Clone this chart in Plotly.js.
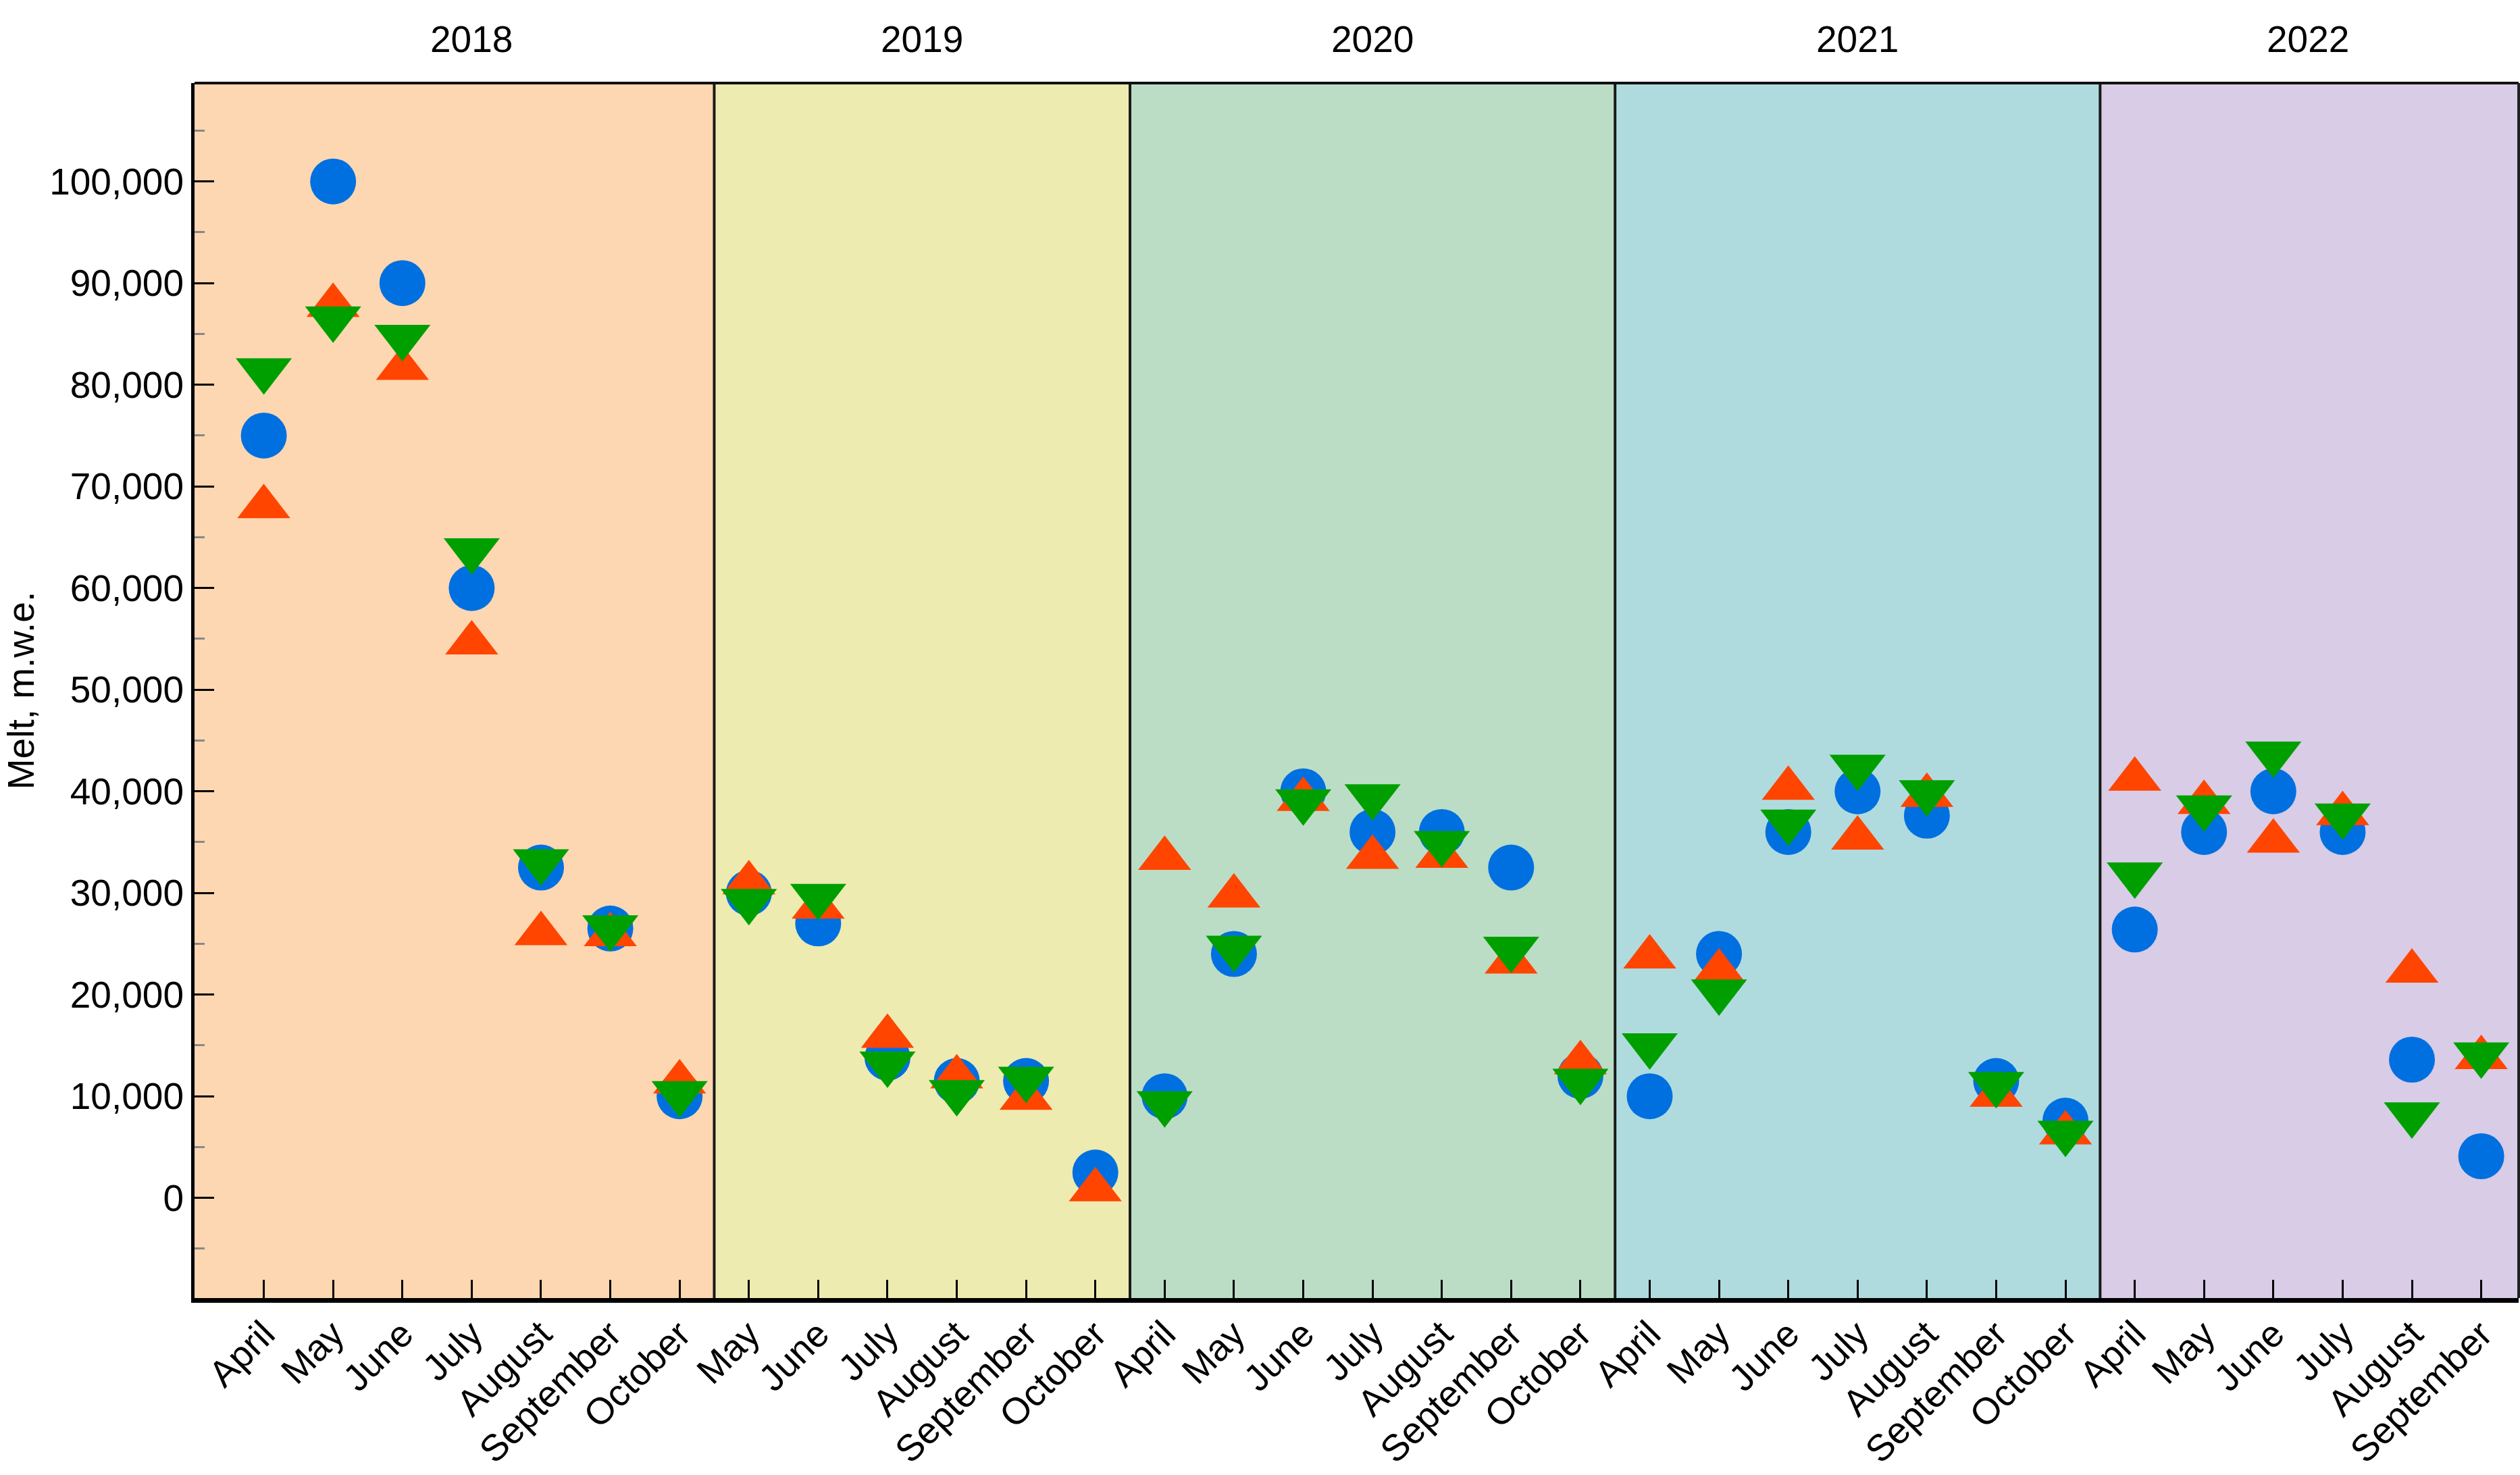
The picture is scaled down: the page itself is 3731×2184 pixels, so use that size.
<!DOCTYPE html>
<html>
<head>
<meta charset="utf-8">
<script src="https://cdn.plot.ly/plotly-3.0.1.min.js"></script>
<style>
  html, body { margin: 0; padding: 0; background: #ffffff; }
  #chart { width: 3731px; height: 2184px; }
</style>
</head>
<body>
<div id="chart"></div>
<script>
// ---- data ----
const years = ["2018", "2019", "2020", "2021", "2022"];
const months2018 = ["April", "May", "June", "July", "August", "September", "October"];
const months2019 = ["May", "June", "July", "August", "September", "October"];
const months2020 = ["April", "May", "June", "July", "August", "September", "October"];
const months2021 = ["April", "May", "June", "July", "August", "September", "October"];
const months2022 = ["April", "May", "June", "July", "August", "September"];

const blue2018 = [75000, 100000, 90000, 60000, 32500, 26500, 10000];
const red2018 = [68000, 87800, 81600, 54600, 26000, 25900, 11400];
const green2018 = [81400, 86500, 84700, 63700, 33100, 26600, 10300];

const blue2019 = [30000, 27000, 13800, 11500, 11500, 2500];
const red2019 = [31000, 28600, 15900, 11900, 9800, 800];
const green2019 = [29200, 29700, 13200, 10400, 11700, null];

const blue2020 = [10000, 24000, 40000, 36000, 36000, 32500, 12000];
const red2020 = [33400, 29700, 39200, 33500, 33600, 23200, 13300];
const green2020 = [9300, 24600, 39000, 39500, 34900, 24500, 11500];

const blue2021 = [10000, 24000, 36000, 40000, 37600, 11500, 7600];
const red2021 = [23700, 22300, 40300, 35400, 39600, 10100, 6400];
const green2021 = [15000, 20300, 37000, 42400, 39900, 11200, 6400];

const blue2022 = [26400, 36000, 40000, 36000, 13600, 4100];
const red2022 = [41200, 38900, 35100, 37800, 22300, 13800];
const green2022 = [31800, 38400, 43700, 37600, 8200, 14100];

const yTickVals = [0, 10000, 20000, 30000, 40000, 50000, 60000, 70000, 80000, 90000, 100000];
const panelColors = ["#FDD7B1", "#EDEBB0", "#BBDDC6", "#B0DBDE", "#D8CCE6"];

// ---- build ----
const monthsByYear = [months2018, months2019, months2020, months2021, months2022];
const blueByYear = [blue2018, blue2019, blue2020, blue2021, blue2022];
const redByYear = [red2018, red2019, red2020, red2021, red2022];
const greenByYear = [green2018, green2019, green2020, green2021, green2022];

const cats = [], tickText = [], blue = [], red = [], green = [];
const yearStart = [], yearEnd = [];
monthsByYear.forEach((ms, yi) => {
  yearStart.push(cats.length);
  ms.forEach((m, mi) => {
    cats.push(years[yi] + " " + m);
    tickText.push(m);
    blue.push(blueByYear[yi][mi]);
    red.push(redByYear[yi][mi]);
    green.push(greenByYear[yi][mi]);
  });
  yearEnd.push(cats.length - 1);
});

const xRange = [-1, cats.length - 1 + 0.54];
const yRange = [-9854, 109680];
const font = "Liberation Sans, Arial, sans-serif";

const traces = [
  { x: cats, y: blue, type: "scatter", mode: "markers", name: "blue",
    marker: { symbol: "circle", size: 68, color: "#0070E0" }, cliponaxis: false },
  { x: cats, y: red, type: "scatter", mode: "markers", name: "red",
    marker: { symbol: "triangle-up", size: 68, color: "#FF4500" }, cliponaxis: false },
  { x: cats, y: green, type: "scatter", mode: "markers", name: "green",
    marker: { symbol: "triangle-down", size: 72, color: "#009F00" }, cliponaxis: false }
];

const shapes = [];
years.forEach((y, i) => {
  shapes.push({
    type: "rect", xref: "x", yref: "paper", layer: "below",
    x0: i === 0 ? xRange[0] : yearStart[i] - 0.5,
    x1: i === years.length - 1 ? xRange[1] : yearEnd[i] + 0.5,
    y0: 0, y1: 1, fillcolor: panelColors[i], line: { width: 0 }
  });
});
for (let i = 1; i < years.length; i++) {
  shapes.push({
    type: "line", xref: "x", yref: "paper", layer: "above",
    x0: yearStart[i] - 0.5, x1: yearStart[i] - 0.5, y0: 0, y1: 1,
    line: { color: "#1a1a1a", width: 4 }
  });
}
shapes.push({ type: "line", xref: "paper", yref: "paper", x0: 0, x1: 1, y0: 1, y1: 1,
  line: { color: "#111111", width: 4 } });
shapes.push({ type: "line", xref: "paper", yref: "paper", x0: 1, x1: 1, y0: 0, y1: 1,
  line: { color: "#222222", width: 4 } });

const annotations = years.map((y, i) => ({
  text: y, xref: "x", yref: "paper",
  x: (yearStart[i] + yearEnd[i]) / 2, y: 1, yanchor: "middle", yshift: 65,
  showarrow: false, font: { family: font, size: 55, color: "#000000" }
}));

const layout = {
  width: 3731, height: 2184,
  margin: { l: 288, r: 2, t: 123, b: 262 },
  paper_bgcolor: "#ffffff", plot_bgcolor: "#ffffff",
  showlegend: false,
  font: { family: font, size: 55, color: "#000000" },
  xaxis: {
    type: "category", range: xRange, tickmode: "array", tickvals: cats, ticktext: tickText,
    tickangle: -45, ticks: "inside", ticklen: 27, tickwidth: 3, tickcolor: "#000000",
    ticklabelstandoff: -8,
    showline: true, linewidth: 7, linecolor: "#000000", showgrid: false, zeroline: false,
    tickfont: { family: font, size: 55, color: "#000000" }
  },
  yaxis: {
    range: yRange, tickmode: "array", tickvals: yTickVals, tickformat: ",d",
    ticks: "inside", ticklen: 29, tickwidth: 3, tickcolor: "#000000",
    minor: { tickmode: "linear", tick0: 0, dtick: 5000, ticks: "inside", ticklen: 15, tickwidth: 3, tickcolor: "#888888" },
    showline: true, linewidth: 5, linecolor: "#000000", showgrid: false, zeroline: false,
    tickfont: { family: font, size: 55, color: "#000000" },
    title: { text: "Melt, m.w.e.", font: { family: font, size: 55, color: "#000000" }, standoff: 22 }
  },
  shapes: shapes,
  annotations: annotations
};

Plotly.newPlot("chart", traces, layout, { staticPlot: true, displayModeBar: false });
</script>
</body>
</html>
